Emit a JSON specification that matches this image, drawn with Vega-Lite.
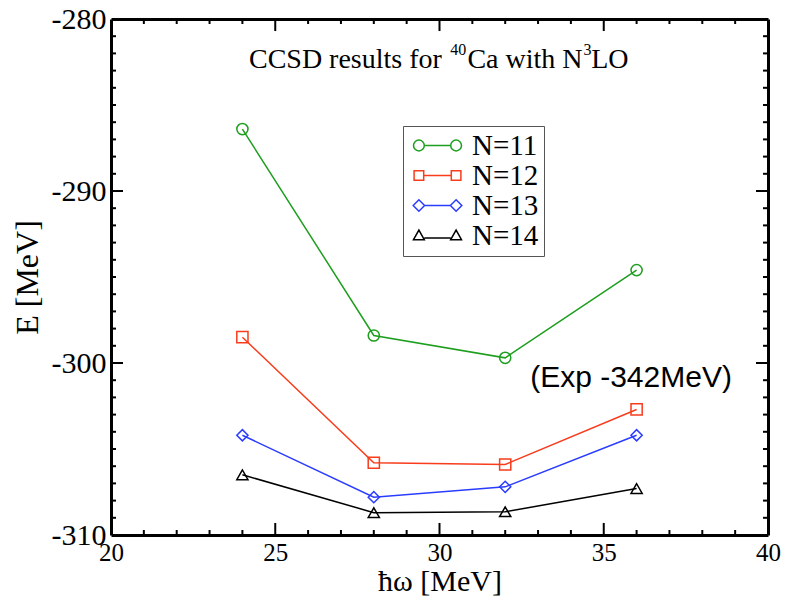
{
  "$schema": "https://vega.github.io/schema/vega-lite/v6.json",
  "width": 657,
  "height": 516,
  "autosize": {"type": "none"},
  "padding": {"left": 111, "top": 19, "right": 24, "bottom": 64},
  "background": "white",
  "config": {
    "view": {"stroke": null},
    "font": "Liberation Serif"
  },
  "datasets": {
    "energies": [
      {"hw": 24, "E": -286.4, "N": "N=11"},
      {"hw": 28, "E": -298.4, "N": "N=11"},
      {"hw": 32, "E": -299.7, "N": "N=11"},
      {"hw": 36, "E": -294.6, "N": "N=11"},
      {"hw": 24, "E": -298.5, "N": "N=12"},
      {"hw": 28, "E": -305.8, "N": "N=12"},
      {"hw": 32, "E": -305.9, "N": "N=12"},
      {"hw": 36, "E": -302.7, "N": "N=12"},
      {"hw": 24, "E": -304.2, "N": "N=13"},
      {"hw": 28, "E": -307.8, "N": "N=13"},
      {"hw": 32, "E": -307.2, "N": "N=13"},
      {"hw": 36, "E": -304.2, "N": "N=13"},
      {"hw": 24, "E": -306.5, "N": "N=14"},
      {"hw": 28, "E": -308.7, "N": "N=14"},
      {"hw": 32, "E": -308.65, "N": "N=14"},
      {"hw": 36, "E": -307.3, "N": "N=14"}
    ],
    "titleMain": [
      {"hw": 24.2, "E": -282.85, "label": "CCSD results for"},
      {"hw": 30.85, "E": -282.85, "label": "Ca with N"},
      {"hw": 34.62, "E": -282.85, "label": "LO"}
    ],
    "titleSup": [
      {"hw": 30.33, "E": -282.09, "label": "40"},
      {"hw": 34.38, "E": -282.09, "label": "3"}
    ],
    "expNote": [
      {"hw": 35.83, "E": -301.4, "label": "(Exp -342MeV)"}
    ],
    "xTicks": [
      {"v": 21}, {"v": 22}, {"v": 23}, {"v": 24}, {"v": 25}, {"v": 26}, {"v": 27}, {"v": 28}, {"v": 29}, {"v": 30},
      {"v": 31}, {"v": 32}, {"v": 33}, {"v": 34}, {"v": 35}, {"v": 36}, {"v": 37}, {"v": 38}, {"v": 39}
    ],
    "yTicks": [
      {"v": -309}, {"v": -308}, {"v": -307}, {"v": -306}, {"v": -305}, {"v": -304}, {"v": -303}, {"v": -302}, {"v": -301}, {"v": -300},
      {"v": -299}, {"v": -298}, {"v": -297}, {"v": -296}, {"v": -295}, {"v": -294}, {"v": -293}, {"v": -292}, {"v": -291}, {"v": -290},
      {"v": -289}, {"v": -288}, {"v": -287}, {"v": -286}, {"v": -285}, {"v": -284}, {"v": -283}, {"v": -282}, {"v": -281}
    ]
  },
  "layer": [
    {
      "data": {"name": "energies"},
      "transform": [{"filter": "false"}],
      "mark": {"type": "point", "filled": false, "strokeWidth": 1.5, "opacity": 1},
      "encoding": {
        "x": {
          "field": "hw", "type": "quantitative",
          "scale": {"domain": [20, 40], "nice": false, "zero": false},
          "axis": null
        },
        "y": {
          "field": "E", "type": "quantitative",
          "scale": {"domain": [-310, -280], "nice": false, "zero": false},
          "axis": null
        },
        "color": {
          "field": "N", "type": "nominal",
          "scale": {"domain": ["N=11", "N=12", "N=13", "N=14"], "range": ["#1e9e1e", "#f83c1c", "#2a3cff", "#000000"]},
          "legend": {
            "title": null,
            "orient": "none",
            "legendX": 292,
            "legendY": 107,
            "padding": 5,
            "strokeColor": "#555555",
            "fillColor": "white",
            "labelFont": "Liberation Serif",
            "labelFontSize": 29,
            "labelColor": "black",
            "labelOffset": 20,
            "symbolOffset": 15,
            "symbolSize": 144,
            "symbolStrokeWidth": 1.5,
            "rowPadding": 0
          }
        },
        "shape": {
          "field": "N", "type": "nominal",
          "scale": {
            "domain": ["N=11", "N=12", "N=13", "N=14"],
            "range": [
              "M-4,0a0.9,0.9 0 1,0 1.8,0a0.9,0.9 0 1,0 -1.8,0M-2.2,0L2.2,0M2.2,0a0.9,0.9 0 1,0 1.8,0a0.9,0.9 0 1,0 -1.8,0",
              "M-3.9,-0.8h1.6v1.6h-1.6zM-2.3,0L2.3,0M2.3,-0.8h1.6v1.6h-1.6z",
              "M-4.05,0L-3.1,-0.95L-2.15,0L-3.1,0.95ZM-2.15,0L2.15,0M2.15,0L3.1,-0.95L4.05,0L3.1,0.95Z",
              "M-4,0.7L-3.1,-0.9L-2.2,0.7ZM-2.2,0.4L2.2,0.4M2.2,0.7L3.1,-0.9L4,0.7Z"
            ]
          },
          "legend": {
            "title": null,
            "orient": "none",
            "legendX": 292,
            "legendY": 107,
            "padding": 5,
            "strokeColor": "#555555",
            "fillColor": "white",
            "labelFont": "Liberation Serif",
            "labelFontSize": 29,
            "labelColor": "black",
            "labelOffset": 20,
            "symbolOffset": 15,
            "symbolSize": 144,
            "symbolStrokeWidth": 1.5,
            "rowPadding": 0
          }
        }
      }
    },
    {
      "data": {"name": "energies"},
      "mark": {"type": "line", "strokeWidth": 1.5},
      "encoding": {
        "x": {
          "field": "hw", "type": "quantitative",
          "axis": {
            "orient": "bottom",
            "title": "ħω [MeV]",
            "titleFont": "Liberation Serif", "titleFontSize": 30, "titleFontWeight": "normal", "titleColor": "black",
            "titlePadding": 1,
            "values": [20, 25, 30, 35, 40],
            "labelExpr": "'' + datum.value",
            "labelFont": "Liberation Serif", "labelFontSize": 25, "labelColor": "black",
            "labelPadding": 5, "labelOverlap": false, "labelBound": false, "labelFlush": false,
            "ticks": false, "tickSize": 0,
            "domainColor": "black", "domainWidth": 3,
            "grid": false
          }
        },
        "y": {
          "field": "E", "type": "quantitative",
          "axis": {
            "orient": "left",
            "title": "E [MeV]",
            "titleFont": "Liberation Serif", "titleFontSize": 32, "titleFontWeight": "normal", "titleColor": "black",
            "titlePadding": 7,
            "values": [-310, -300, -290, -280],
            "labelExpr": "'' + datum.value",
            "labelFont": "Liberation Serif", "labelFontSize": 30, "labelColor": "black",
            "labelPadding": 5, "labelOverlap": false, "labelBound": false, "labelFlush": false,
            "ticks": false, "tickSize": 0,
            "domainColor": "black", "domainWidth": 3,
            "grid": false
          }
        },
        "color": {"field": "N", "type": "nominal", "legend": null}
      }
    },
    {
      "data": {"name": "energies"},
      "mark": {"type": "point", "filled": false, "strokeWidth": 1.5, "opacity": 1, "size": 125},
      "encoding": {
        "x": {
          "field": "hw", "type": "quantitative",
          "axis": {
            "orient": "top", "title": null, "labels": false, "ticks": false,
            "domainColor": "black", "domainWidth": 3, "grid": false
          }
        },
        "y": {
          "field": "E", "type": "quantitative",
          "axis": {
            "orient": "right", "title": null, "labels": false, "ticks": false,
            "domainColor": "black", "domainWidth": 3, "grid": false
          }
        },
        "color": {"field": "N", "type": "nominal", "legend": null},
        "shape": {
          "condition": [
            {"test": "datum.N === 'N=11'", "value": "circle"},
            {"test": "datum.N === 'N=12'", "value": "square"},
            {"test": "datum.N === 'N=13'", "value": "diamond"}
          ],
          "value": "triangle-up"
        }
      }
    },
    {
      "data": {"name": "xTicks"},
      "transform": [{"filter": "datum.v % 5 === 0"}],
      "mark": {"type": "rule", "color": "black", "strokeWidth": 2, "opacity": 1},
      "encoding": {
        "x": {"field": "v", "type": "quantitative", "axis": null},
        "y": {"datum": -310, "type": "quantitative", "axis": null},
        "y2": {"datum": -309.3}
      }
    },
    {
      "data": {"name": "xTicks"},
      "transform": [{"filter": "datum.v % 5 !== 0"}],
      "mark": {"type": "rule", "color": "black", "strokeWidth": 2, "opacity": 1},
      "encoding": {
        "x": {"field": "v", "type": "quantitative", "axis": null},
        "y": {"datum": -310, "type": "quantitative", "axis": null},
        "y2": {"datum": -309.71}
      }
    },
    {
      "data": {"name": "xTicks"},
      "transform": [{"filter": "datum.v % 5 === 0"}],
      "mark": {"type": "rule", "color": "black", "strokeWidth": 2, "opacity": 1},
      "encoding": {
        "x": {"field": "v", "type": "quantitative", "axis": null},
        "y": {"datum": -280, "type": "quantitative", "axis": null},
        "y2": {"datum": -280.7}
      }
    },
    {
      "data": {"name": "xTicks"},
      "transform": [{"filter": "datum.v % 5 !== 0"}],
      "mark": {"type": "rule", "color": "black", "strokeWidth": 2, "opacity": 1},
      "encoding": {
        "x": {"field": "v", "type": "quantitative", "axis": null},
        "y": {"datum": -280, "type": "quantitative", "axis": null},
        "y2": {"datum": -280.29}
      }
    },
    {
      "data": {"name": "yTicks"},
      "transform": [{"filter": "datum.v % 10 === 0"}],
      "mark": {"type": "rule", "color": "black", "strokeWidth": 2, "opacity": 1},
      "encoding": {
        "y": {"field": "v", "type": "quantitative", "axis": null},
        "x": {"datum": 20, "type": "quantitative", "axis": null},
        "x2": {"datum": 20.365}
      }
    },
    {
      "data": {"name": "yTicks"},
      "transform": [{"filter": "datum.v % 10 !== 0"}],
      "mark": {"type": "rule", "color": "black", "strokeWidth": 2, "opacity": 1},
      "encoding": {
        "y": {"field": "v", "type": "quantitative", "axis": null},
        "x": {"datum": 20, "type": "quantitative", "axis": null},
        "x2": {"datum": 20.152}
      }
    },
    {
      "data": {"name": "yTicks"},
      "transform": [{"filter": "datum.v % 10 === 0"}],
      "mark": {"type": "rule", "color": "black", "strokeWidth": 2, "opacity": 1},
      "encoding": {
        "y": {"field": "v", "type": "quantitative", "axis": null},
        "x": {"datum": 40, "type": "quantitative", "axis": null},
        "x2": {"datum": 39.635}
      }
    },
    {
      "data": {"name": "yTicks"},
      "transform": [{"filter": "datum.v % 10 !== 0"}],
      "mark": {"type": "rule", "color": "black", "strokeWidth": 2, "opacity": 1},
      "encoding": {
        "y": {"field": "v", "type": "quantitative", "axis": null},
        "x": {"datum": 40, "type": "quantitative", "axis": null},
        "x2": {"datum": 39.848}
      }
    },
    {
      "data": {"name": "titleMain"},
      "mark": {"type": "text", "font": "Liberation Serif", "fontSize": 28, "align": "left", "baseline": "alphabetic", "color": "black"},
      "encoding": {
        "x": {"field": "hw", "type": "quantitative", "axis": null},
        "y": {"field": "E", "type": "quantitative", "axis": null},
        "text": {"field": "label"}
      }
    },
    {
      "data": {"name": "titleSup"},
      "mark": {"type": "text", "font": "Liberation Serif", "fontSize": 16, "align": "left", "baseline": "alphabetic", "color": "black"},
      "encoding": {
        "x": {"field": "hw", "type": "quantitative", "axis": null},
        "y": {"field": "E", "type": "quantitative", "axis": null},
        "text": {"field": "label"}
      }
    },
    {
      "data": {"name": "expNote"},
      "mark": {"type": "text", "font": "Liberation Sans", "fontSize": 30, "align": "center", "baseline": "alphabetic", "color": "black"},
      "encoding": {
        "x": {"field": "hw", "type": "quantitative", "axis": null},
        "y": {"field": "E", "type": "quantitative", "axis": null},
        "text": {"field": "label"}
      }
    }
  ],
  "resolve": {
    "axis": {"x": "independent", "y": "independent"}
  }
}
